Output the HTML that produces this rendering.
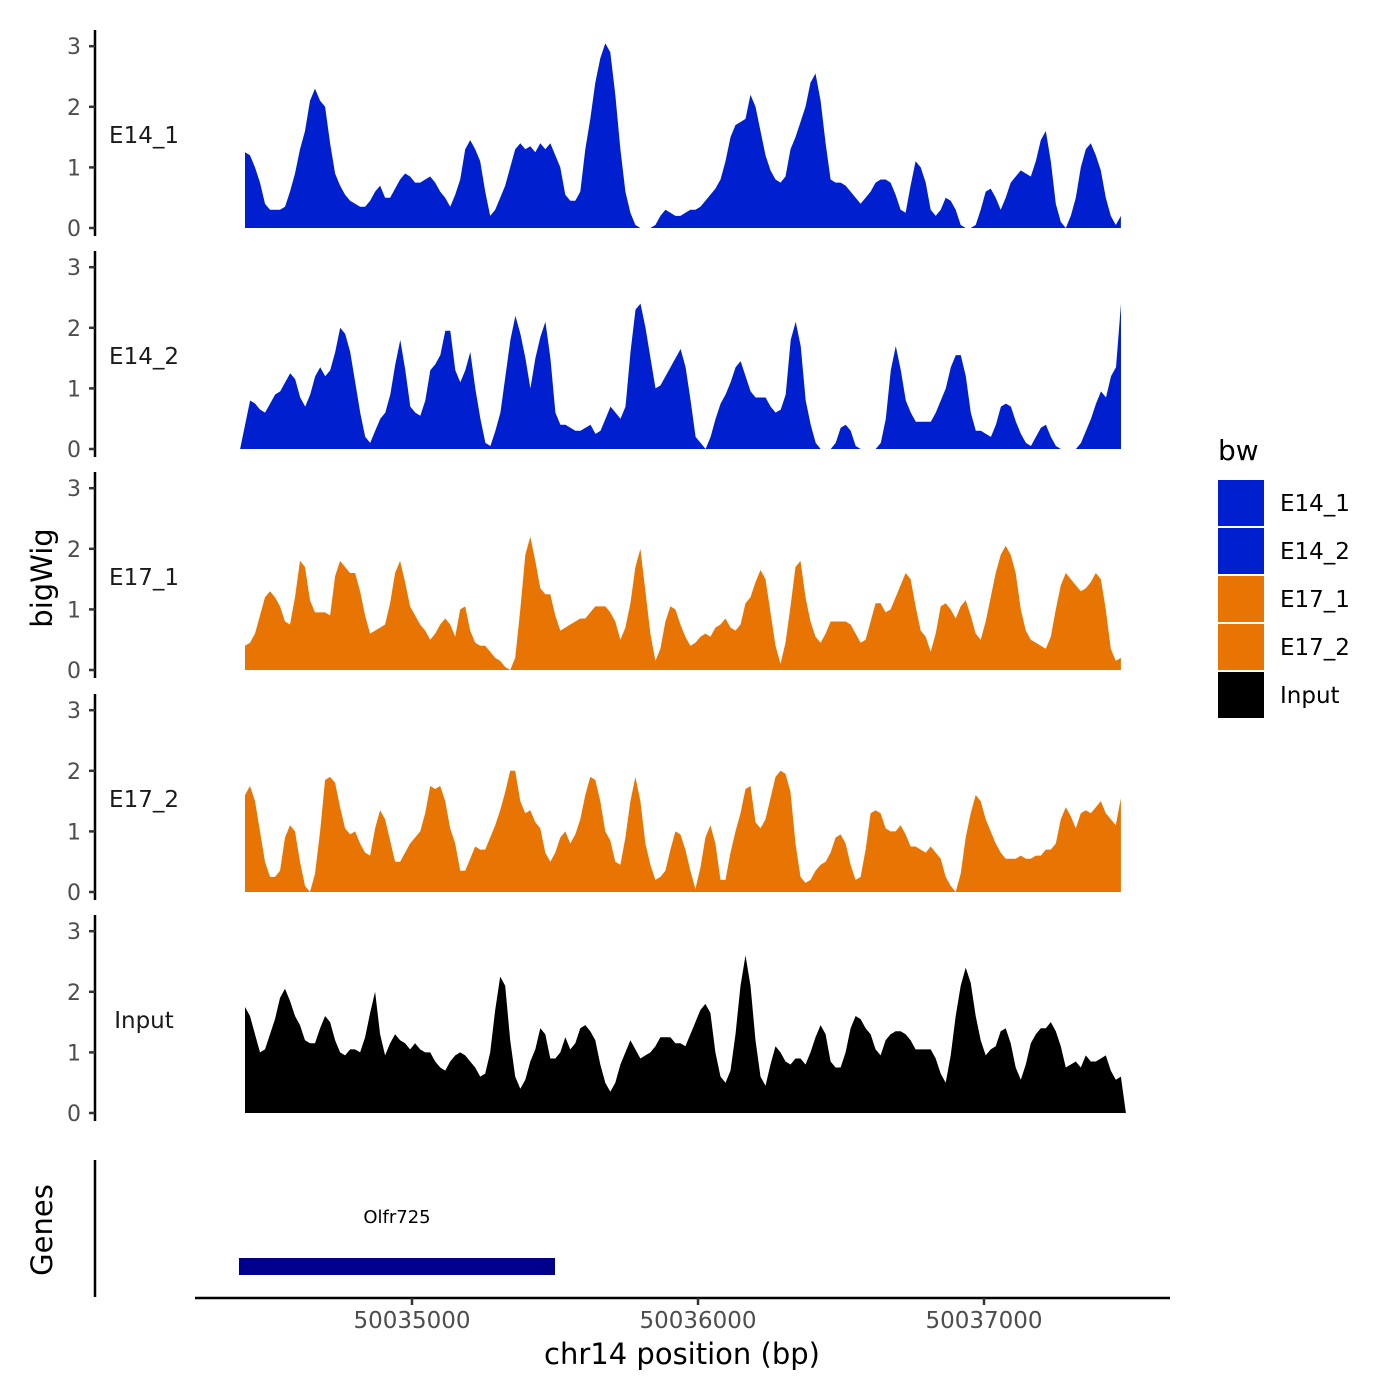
<!DOCTYPE html>
<html><head><meta charset="utf-8"><style>
body{margin:0;background:#fff}
svg{display:block;font-family:"DejaVu Sans","Liberation Sans",sans-serif}
</style></head><body>
<svg id="chart" width="1400" height="1400" viewBox="0 0 1400 1400" xmlns="http://www.w3.org/2000/svg">
<rect width="1400" height="1400" fill="#fff"/>
</svg>
<script>
const trackNames = ["E14_1","E14_2","E17_1","E17_2","Input"];
const trackColors = ["#0020CF","#0020CF","#E87503","#E87503","#000000"];
const trackStarts = [50034416,50034399,50034416,50034416,50034416];
const binSize = 17.5;
const yTicks = [0,1,2,3];
const xTicks = [50035000,50036000,50037000];
const xTickLabels = ["50035000","50036000","50037000"];
const geneName = "Olfr725";
const geneStart = 50034395;
const geneEnd = 50035500;
const e14_1 = [1.25,1.2,1.0,.75,.4,.3,.3,.3,.35,.6,.9,1.3,1.6,2.1,2.3,2.1,2.0,1.4,.9,.7,.55,.45,.4,.35,.35,.45,.6,.7,.5,.5,.65,.8,.9,.85,.75,.75,.8,.85,.75,.6,.5,.35,.55,.8,1.3,1.45,1.3,1.1,.6,.2,.3,.5,.7,1.0,1.3,1.4,1.3,1.35,1.25,1.4,1.3,1.4,1.2,1.0,.55,.45,.45,.6,1.3,1.8,2.4,2.8,3.05,2.9,2.2,1.3,.6,.25,.05,0,0,0,.05,.2,.3,.25,.2,.2,.25,.3,.3,.35,.45,.55,.65,.8,1.1,1.5,1.7,1.75,1.8,2.2,2.0,1.6,1.2,.95,.8,.75,.85,1.3,1.5,1.75,2.0,2.4,2.55,2.1,1.4,.8,.75,.75,.7,.6,.5,.4,.5,.6,.75,.8,.8,.75,.55,.3,.25,.7,1.1,1.0,.75,.3,.2,.3,.5,.45,.3,.05,0,0,.05,.3,.6,.65,.5,.3,.5,.75,.85,.95,.9,.85,1.1,1.45,1.6,1.1,.4,.1,0,.2,.5,1.0,1.3,1.4,1.2,.95,.5,.2,.05,.2];
const e14_2 = [0,.4,.8,.75,.65,.6,.75,.9,.95,1.1,1.25,1.15,.85,.7,.9,1.2,1.35,1.2,1.3,1.6,2.0,1.9,1.6,1.1,.6,.2,.1,.3,.5,.6,.9,1.4,1.8,1.3,.7,.6,.55,.8,1.3,1.4,1.55,1.95,1.95,1.3,1.1,1.3,1.6,1.0,.5,.1,.05,.3,.6,1.2,1.8,2.2,1.9,1.5,1.0,1.5,1.85,2.1,1.5,.6,.4,.4,.35,.3,.3,.35,.4,.25,.3,.5,.7,.6,.5,.7,1.6,2.3,2.4,2.0,1.5,1.0,1.05,1.2,1.35,1.5,1.65,1.35,.8,.2,.1,0,.2,.5,.75,.9,1.1,1.35,1.45,1.2,.95,.85,.85,.85,.7,.6,.65,.9,1.8,2.1,1.7,.8,.4,.1,0,0,0,.1,.35,.4,.3,.05,0,0,0,0,.1,.5,1.3,1.7,1.3,.8,.6,.45,.45,.45,.45,.6,.8,1.0,1.35,1.55,1.55,1.2,.6,.3,.3,.25,.2,.4,.7,.75,.7,.45,.25,.1,.05,.2,.35,.4,.2,.05,0,0,0,0,.1,.3,.5,.75,.95,.85,1.2,1.35,2.4];
const e17_1 = [.4,.45,.6,.9,1.2,1.3,1.2,1.05,.8,.75,1.2,1.8,1.7,1.15,.95,.95,.95,.9,1.55,1.8,1.7,1.6,1.6,1.3,.9,.6,.65,.7,.75,1.1,1.6,1.8,1.45,1.05,.9,.75,.65,.5,.6,.75,.85,.75,.55,1.0,1.05,.65,.45,.4,.4,.3,.2,.15,.05,0,.2,1.0,1.9,2.2,1.8,1.35,1.25,1.25,.9,.65,.7,.75,.8,.85,.85,.95,1.05,1.05,1.05,.95,.8,.5,.7,1.1,1.7,2.0,1.3,.6,.15,.35,.8,1.05,1.0,.75,.55,.4,.45,.55,.6,.55,.7,.75,.85,.7,.65,.75,1.1,1.2,1.45,1.65,1.5,.95,.4,.1,.45,1.05,1.7,1.8,1.2,.8,.55,.45,.6,.8,.8,.8,.8,.75,.6,.45,.5,.8,1.1,1.1,.95,1.0,1.2,1.4,1.6,1.5,1.05,.65,.55,.3,.6,1.05,1.1,1.0,.85,1.05,1.15,.9,.6,.5,.8,1.2,1.6,1.9,2.05,1.9,1.6,1.0,.65,.5,.45,.4,.35,.55,1.0,1.4,1.6,1.5,1.4,1.3,1.35,1.45,1.6,1.5,1.0,.35,.15,.2];
const e17_2 = [1.6,1.75,1.5,1.0,.5,.25,.25,.35,.9,1.1,1.0,.5,.1,0,.3,1.0,1.85,1.9,1.8,1.4,1.05,.95,1.0,.8,.65,.6,1.05,1.35,1.2,.85,.5,.5,.65,.8,.9,1.0,1.3,1.75,1.7,1.75,1.5,1.05,.8,.35,.35,.55,.75,.7,.7,.9,1.1,1.35,1.65,2.0,2.0,1.5,1.3,1.35,1.15,1.05,.65,.5,.65,.9,1.0,.8,.95,1.2,1.6,1.9,1.85,1.5,1.0,.85,.5,.45,.9,1.5,1.9,1.5,.8,.45,.2,.25,.35,.7,1.0,.95,.7,.35,.05,.4,.9,1.1,.8,.2,.2,.65,1.0,1.3,1.7,1.75,1.15,1.05,1.2,1.55,1.9,2.0,1.95,1.65,.8,.25,.15,.2,.35,.45,.5,.65,.9,.95,.8,.45,.2,.25,.7,1.3,1.35,1.3,1.05,1.0,1.0,1.1,.95,.75,.75,.7,.65,.75,.65,.55,.25,.1,0,.3,.9,1.3,1.6,1.5,1.2,1.0,.8,.65,.55,.55,.55,.6,.55,.55,.6,.6,.7,.7,.8,1.2,1.4,1.25,1.05,1.3,1.35,1.3,1.4,1.5,1.3,1.2,1.1,1.55];
const inputTrack = [1.75,1.6,1.3,1.0,1.05,1.3,1.55,1.9,2.05,1.85,1.6,1.45,1.2,1.15,1.15,1.4,1.6,1.5,1.2,1.0,.95,1.05,1.05,1.0,1.25,1.65,2.0,1.3,.95,1.15,1.3,1.2,1.15,1.05,1.15,1.05,1.0,1.0,.85,.75,.7,.85,.95,1.0,.95,.85,.75,.6,.65,1.0,1.7,2.25,2.1,1.2,.6,.4,.55,.85,1.05,1.4,1.3,.9,.9,1.0,1.25,1.05,1.15,1.4,1.45,1.35,1.2,.8,.5,.35,.5,.8,1.0,1.2,1.05,.9,.95,1.0,1.1,1.25,1.25,1.25,1.15,1.15,1.1,1.3,1.5,1.7,1.8,1.65,1.0,.6,.5,.7,1.3,2.1,2.6,2.1,1.2,.6,.45,.8,1.1,1.0,.85,.8,.9,.9,.8,1.0,1.25,1.45,1.3,.85,.75,.75,1.0,1.4,1.6,1.55,1.4,1.3,1.05,.95,1.2,1.3,1.35,1.35,1.3,1.2,1.05,1.05,1.05,1.05,.9,.65,.5,.95,1.6,2.1,2.4,2.15,1.6,1.2,.95,1.05,1.1,1.35,1.4,1.15,.75,.55,.8,1.15,1.3,1.4,1.4,1.5,1.35,1.1,.75,.8,.85,.75,.95,.85,.85,.9,.95,.7,.55,.6,0];
const trackValues = [e14_1,e14_2,e17_1,e17_2,inputTrack];

const NS="http://www.w3.org/2000/svg";
const svg=document.getElementById('chart');
function mk(tag,attrs,parent){const e=document.createElementNS(NS,tag);for(const k in attrs)e.setAttribute(k,attrs[k]);(parent||svg).appendChild(e);return e;}
const xScale=bp=>412+(bp-50035000)*0.286;
const baselines=[228,449,670,892,1113];
const unit=60.6;
const yScale=(p,v)=>baselines[p]-v*unit;

for(let p=0;p<5;p++){
  const g=mk('g',{});
  
  
  const vals=trackValues[p];
  let d='M'+xScale(trackStarts[p]).toFixed(1)+','+baselines[p];
  vals.forEach((v,i)=>{d+=' L'+xScale(trackStarts[p]+i*binSize).toFixed(1)+','+yScale(p,v).toFixed(1);});
  d+=' L'+xScale(trackStarts[p]+(vals.length-1)*binSize).toFixed(1)+','+baselines[p]+' Z';
  const area=mk('path',{d:d,fill:trackColors[p]},g);
  
  
  const ax=mk('line',{x1:95,x2:95,y1:baselines[p]-198,y2:baselines[p]+8,stroke:'#000','stroke-width':2.5},g);
  
  
  yTicks.forEach(t=>{
    const y=yScale(p,t);
    const tk=mk('line',{x1:89,x2:95,y1:y,y2:y,stroke:'#333','stroke-width':2.5},g);
    
    
    const tl=mk('text',{x:81,y:y+8,'text-anchor':'end','font-size':22,fill:'#4d4d4d'},g);
    tl.textContent=String(t);
    
    
  });
  const lab=mk('text',{x:144,y:baselines[p]-85,'text-anchor':'middle','font-size':23,fill:'#1a1a1a'},g);
  lab.textContent=trackNames[p];
  
  
}

// genes panel
const gax=mk('line',{x1:95,x2:95,y1:1160,y2:1297,stroke:'#000','stroke-width':2.5});


const gb=mk('rect',{x:xScale(geneStart),y:1258,width:xScale(geneEnd)-xScale(geneStart),height:17,fill:'#00008B'});


const gl=mk('text',{x:(xScale(geneStart)+xScale(geneEnd))/2,y:1223,'text-anchor':'middle','font-size':18,fill:'#000'});
gl.textContent=geneName;



// x axis
const xa=mk('line',{x1:195,x2:1170,y1:1298,y2:1298,stroke:'#000','stroke-width':2.5});


xTicks.forEach((t,i)=>{
  const x=xScale(t);
  const tk=mk('line',{x1:x,x2:x,y1:1298,y2:1305,stroke:'#333','stroke-width':2.5});
  
  
  const tl=mk('text',{x:x,y:1328,'text-anchor':'middle','font-size':23,fill:'#4d4d4d'});
  tl.textContent=xTickLabels[i];
  
  
});
const xt=mk('text',{x:682,y:1364,'text-anchor':'middle','font-size':29,fill:'#000'});
xt.textContent='chr14 position (bp)';


const yt=mk('text',{x:0,y:0,'text-anchor':'middle','font-size':29,fill:'#000',transform:'translate(52,578) rotate(-90)'});
yt.textContent='bigWig';


const gt=mk('text',{x:0,y:0,'text-anchor':'middle','font-size':29,fill:'#000',transform:'translate(52,1230) rotate(-90)'});
gt.textContent='Genes';



// legend
const lg=mk('g',{});


const lt=mk('text',{x:1218,y:460,'font-size':28,fill:'#000'},lg);
lt.textContent='bw';


trackNames.forEach((n,i)=>{
  const y=480+i*48;
  const r=mk('rect',{x:1218,y:y,width:46,height:46,fill:trackColors[i]},lg);
  
  
  const t=mk('text',{x:1280,y:y+31,'font-size':23,fill:'#000'},lg);
  t.textContent=n;
  
  
});
</script>
</body></html>
